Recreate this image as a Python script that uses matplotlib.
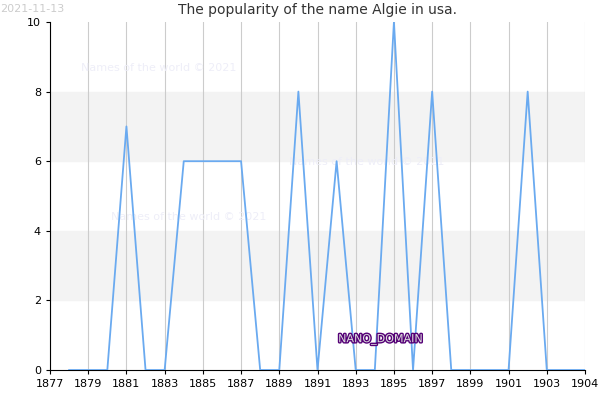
import matplotlib.pyplot as plt
import matplotlib.patheffects as pe

years = list(range(1878, 1906))
counts = [0, 0, 0, 7, 0, 0, 6, 6, 6, 6, 0, 0, 8, 0, 6, 0, 0, 10, 0, 8, 0, 0, 0, 0, 8, 0, 0, 0]
xticks = list(range(1877, 1906, 2))
xlabels = [str(y) for y in range(1877, 1904, 2)] + ["1904"]

fig = plt.figure(figsize=(6, 4), dpi=100)
ax = fig.add_axes([50 / 600, 30 / 400, 535 / 600, 348 / 400])

for lo, hi in [(2, 4), (6, 8)]:
    ax.axhspan(lo, hi, color="#f3f3f3", zorder=0)
for x in xticks:
    ax.axvline(x, color="#cccccc", lw=0.8, zorder=1)

ax.plot(years, counts, color="#6aaaf0", lw=1.3, zorder=3)

ax.set_xlim(1877, 1905)
ax.set_ylim(0, 10)
ax.set_xticks(xticks)
ax.set_xticklabels(xlabels)
ax.set_yticks(range(0, 11, 2))
ax.tick_params(labelsize=8, length=3)
for s in ["top", "right"]:
    ax.spines[s].set_visible(False)

ax.set_title("The popularity of the name Algie in usa.", fontsize=10, color="#333333")
fig.text(0.0, 0.99, "2021-11-13", fontsize=8, color="#cccccc", va="top")

for x, y in [(1878.6, 8.6), (1889.5, 5.9), (1880.2, 4.3)]:
    ax.text(x, y, "Names of the world © 2021", fontsize=8, color="#eeeef8", zorder=2)

ax.text(1894.3, 0.8, "NANO_DOMAIN", fontsize=8, color="#dddddd", ha="center", zorder=4,
        path_effects=[pe.withStroke(linewidth=2, foreground="#550077")])

fig.savefig("out.png")
